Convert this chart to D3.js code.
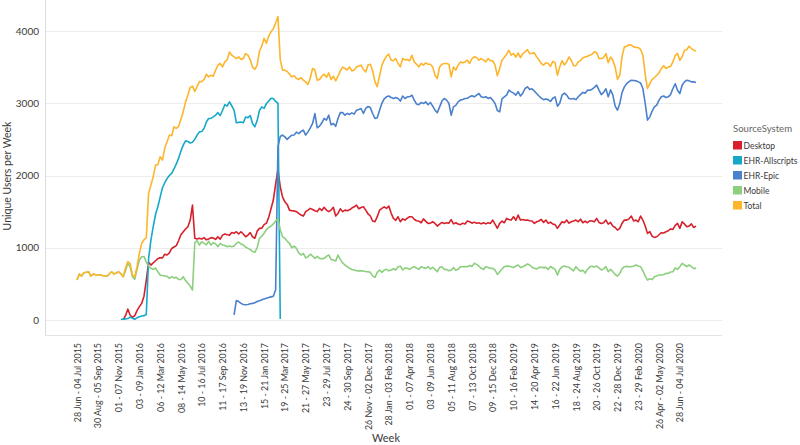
<!DOCTYPE html>
<html><head><meta charset="utf-8">
<script src="https://cdn.jsdelivr.net/npm/d3@7"></script>
<style>
body{margin:0;background:#fff;}
text{font-family:Lato,"Open Sans",sans-serif;}
</style></head>
<body><svg id="c" width="800" height="445"></svg>
<script>
// ---------- DATA ----------
const firstWeekStart = "2015-06-28"; // week of 28 Jun - 04 Jul 2015
const weekCount = 269;
const tickLabels = ["28 Jun - 04 Jul 2015","30 Aug - 05 Sep 2015","01 - 07 Nov 2015","03 - 09 Jan 2016","06 - 12 Mar 2016","08 - 14 May 2016","10 - 16 Jul 2016","11 - 17 Sep 2016","13 - 19 Nov 2016","15 - 21 Jan 2017","19 - 25 Mar 2017","21 - 27 May 2017","23 - 29 Jul 2017","24 - 30 Sep 2017","26 Nov - 02 Dec 2017","28 Jan - 03 Feb 2018","01 - 07 Apr 2018","03 - 09 Jun 2018","05 - 11 Aug 2018","07 - 13 Oct 2018","09 - 15 Dec 2018","10 - 16 Feb 2019","14 - 20 Apr 2019","16 - 22 Jun 2019","18 - 24 Aug 2019","20 - 26 Oct 2019","22 - 28 Dec 2019","23 - 29 Feb 2020","26 Apr - 02 May 2020","28 Jun - 04 Jul 2020"];
const yTicks = [0,1000,2000,3000,4000];
const seriesNames = ["Desktop","EHR-Allscripts","EHR-Epic","Mobile","Total"];

// first week index where each series begins
const desktopStart = 20;
const allscriptsStart = 19;
const epicStart = 68;
const mobileStart = 0;
const totalStart = 0;

const total = [553,636,608,654,660,668,608,636,625,622,
622,615,610,608,636,668,636,650,668,640,
599,720,807,784,622,599,738,922,1060,1110,
1140,1750,1867,1982,2144,2150,2259,2213,2380,2466,
2560,2550,2674,2651,2680,2780,2881,3019,3112,3218,
3236,3165,3230,3300,3300,3329,3402,3365,3388,3374,
3457,3527,3550,3503,3572,3600,3710,3665,3642,3619,
3642,3605,3620,3688,3665,3605,3500,3470,3527,3720,
3790,3900,3830,3930,3990,4030,4110,4200,3600,3460,
3458,3440,3402,3365,3380,3342,3329,3356,3319,3296,
3260,3350,3481,3460,3319,3329,3374,3402,3360,3420,
3330,3374,3310,3374,3448,3500,3481,3460,3503,3448,
3458,3503,3515,3527,3470,3434,3530,3540,3450,3300,
3230,3380,3527,3596,3651,3679,3596,3590,3619,3550,
3503,3620,3600,3605,3587,3665,3572,3540,3503,3550,
3527,3559,3540,3540,3503,3388,3342,3503,3540,3550,
3550,3540,3365,3503,3458,3527,3572,3559,3572,3596,
3550,3619,3642,3633,3596,3619,3596,3572,3619,3590,
3587,3527,3380,3481,3596,3633,3679,3734,3665,3688,
3640,3697,3630,3688,3711,3743,3688,3690,3697,3642,
3600,3550,3527,3560,3550,3510,3580,3560,3388,3503,
3590,3530,3572,3640,3596,3520,3520,3572,3590,3630,
3640,3650,3665,3680,3711,3700,3619,3619,3630,3688,
3560,3640,3596,3500,3330,3388,3650,3780,3789,3810,
3805,3780,3771,3771,3745,3665,3400,3204,3273,3330,
3356,3388,3420,3481,3520,3481,3503,3510,3572,3660,
3690,3596,3640,3734,3740,3789,3757,3734,3724];

const allscripts = [10,12,15,20,40,25,10,30,45,55,60,
75,850,1106,1291,1460,1567,1700,1830,1900,1960,
2000,2030,2090,2160,2240,2340,2420,2480,2470,2450,
2460,2500,2560,2604,2610,2650,2740,2789,2790,2812,
2835,2870,2830,2900,2980,2960,3019,2965,2904,2730,
2735,2740,2730,2810,2800,2830,2720,2674,2760,2900,
2950,2930,2996,3030,3070,3066,3025,3000,15];

const epic = [70,270,
255,230,215,210,215,225,230,240,255,265,
280,290,300,310,320,330,420,2400,2540,2560,
2535,2500,2530,2558,2560,2600,2580,2610,2628,2560,
2604,2660,2720,2858,2660,2683,2730,2789,2766,2835,
2700,2720,2680,2789,2870,2870,2835,2860,2845,2867,
2850,2904,2915,2927,2858,2930,2955,2940,2858,2789,
2800,2904,3000,3060,3089,3100,3080,3066,3080,3066,
3030,3100,3066,3089,3089,3112,3043,2990,2980,3010,
2996,3019,2980,3010,2960,2904,2870,2950,3030,3066,
3043,3000,2835,2950,2970,3019,3043,3052,3066,3070,
3089,3105,3089,3112,3135,3089,3080,3090,3066,3080,
3043,2996,2900,2881,3060,3089,3112,3181,3158,3140,
3112,3160,3100,3140,3204,3227,3190,3200,3170,3135,
3100,3070,3050,3060,3050,3025,3070,3089,2960,3000,
3112,3140,3112,3066,3060,3066,3050,3090,3120,3150,
3140,3181,3180,3195,3220,3250,3181,3120,3150,3200,
3089,3185,3112,2960,2904,2996,3150,3227,3273,3300,
3319,3315,3310,3296,3280,3204,3000,2766,2812,2890,
2950,2973,3043,3089,3100,3080,3089,3120,3204,3270,
3181,3135,3250,3296,3319,3310,3296,3296,3287];

const desktop = [5,60,150,70,35,60,130,185,230,330,
550,800,760,790,820,850,860,860,910,900,
930,990,1010,1030,1100,1180,1220,1260,1290,1380,
1590,1130,1120,1130,1120,1140,1110,1120,1140,1135,
1116,1150,1120,1175,1190,1180,1175,1210,1200,1222,
1190,1222,1190,1152,1175,1210,1152,1130,1230,1268,
1270,1320,1340,1420,1540,1660,1880,2084,1844,1700,
1637,1600,1521,1512,1510,1500,1475,1452,1438,1500,
1521,1545,1530,1512,1500,1545,1515,1560,1521,1500,
1521,1560,1440,1475,1540,1500,1521,1512,1525,1550,
1567,1590,1540,1558,1567,1521,1470,1440,1370,1360,
1430,1520,1545,1567,1545,1577,1480,1406,1380,1429,
1360,1400,1383,1410,1429,1429,1395,1374,1370,1346,
1400,1365,1337,1340,1360,1337,1300,1328,1350,1337,
1346,1340,1390,1330,1346,1328,1320,1340,1328,1370,
1360,1340,1355,1340,1346,1330,1346,1330,1346,1337,
1383,1328,1270,1337,1370,1346,1406,1390,1383,1429,
1380,1452,1383,1392,1380,1383,1374,1370,1337,1360,
1370,1392,1350,1383,1337,1355,1328,1320,1268,1314,
1360,1346,1383,1340,1360,1370,1383,1360,1395,1346,
1370,1346,1374,1370,1360,1406,1350,1337,1345,1383,
1328,1350,1300,1280,1245,1268,1340,1383,1383,1400,
1438,1370,1383,1360,1438,1383,1300,1199,1222,1160,
1143,1152,1180,1208,1205,1222,1236,1260,1254,1310,
1337,1268,1360,1330,1291,1300,1330,1280,1300];

const mobile = [553,636,608,654,660,668,608,636,625,622,
622,615,610,608,636,668,636,650,668,640,
599,680,784,738,599,563,700,830,876,880,
800,745,715,700,720,668,622,615,610,605,
576,599,583,590,560,560,599,545,510,470,
415,1070,1100,1037,1083,1060,1040,1090,1037,1069,
1055,1014,1060,1037,1030,1014,1023,1014,1023,1060,
1080,1051,1037,1010,991,975,950,936,1000,1130,
1160,1200,1250,1280,1300,1330,1370,1400,1250,1152,
1130,1090,1060,1000,1023,991,930,899,922,860,
876,910,885,853,880,853,850,853,880,900,
839,830,815,899,840,790,761,738,715,700,
692,682,680,682,678,670,668,660,610,590,
660,692,660,692,701,680,692,710,692,738,
745,692,720,715,701,725,738,720,701,738,
725,715,738,705,730,700,670,730,738,700,
701,682,690,728,690,701,738,738,740,738,
755,740,784,770,745,715,701,738,728,715,
715,692,630,668,705,738,747,745,738,725,
747,761,726,738,755,775,761,730,715,705,
730,728,725,728,700,740,720,700,622,701,
735,747,738,730,705,680,738,701,675,690,
650,700,738,745,735,747,720,692,708,738,
668,700,668,630,608,645,710,738,742,738,
738,747,761,747,738,682,610,553,570,560,
599,610,622,622,631,645,645,665,668,720,
701,738,784,761,740,761,738,715,715];

const colors = ["#D7202B","#17A8C9","#4A80CC","#8CCF7E","#FDB52B"];

// ---------- CATEGORIES ----------
const months = ["Jan","Feb","Mar","Apr","May","Jun","Jul","Aug","Sep","Oct","Nov","Dec"];
const pad = n => String(n).padStart(2,"0");
const start = d3.timeParse("%Y-%m-%d")(firstWeekStart);
const weeks = d3.range(weekCount).map(i => {
  const a = d3.timeDay.offset(start, i*7), b = d3.timeDay.offset(a, 6);
  if (a.getFullYear() !== b.getFullYear())
    return `${pad(a.getDate())} ${months[a.getMonth()]} ${a.getFullYear()} - ${pad(b.getDate())} ${months[b.getMonth()]} ${b.getFullYear()}`;
  if (a.getMonth() !== b.getMonth())
    return `${pad(a.getDate())} ${months[a.getMonth()]} - ${pad(b.getDate())} ${months[b.getMonth()]} ${b.getFullYear()}`;
  return `${pad(a.getDate())} - ${pad(b.getDate())} ${months[b.getMonth()]} ${b.getFullYear()}`;
});

const series = [
  {name:"Desktop", start:desktopStart, values:desktop},
  {name:"EHR-Allscripts", start:allscriptsStart, values:allscripts},
  {name:"EHR-Epic", start:epicStart, values:epic},
  {name:"Mobile", start:mobileStart, values:mobile},
  {name:"Total", start:totalStart, values:total}
].map((s,k) => ({...s, color:colors[k], points:s.values.map((v,j)=>({week:weeks[s.start+j], v}))}));

// ---------- LAYOUT ----------
const svg = d3.select("#c");
const plotL = 45, plotR = 722, plotB = 335;
const x = d3.scalePoint().domain(weeks).range([77, 696]);
const y = d3.scaleLinear().domain([0,4000]).range([320, 31]);

const textCol = "#3a3a3a";

// shrink the font of a text selection (uniformly) so the widest fits maxW
function fitFont(sel, fs, maxW){
  sel.attr("font-size", fs);
  let w = 0;
  sel.each(function(){ w = Math.max(w, this.getComputedTextLength()); });
  if (w > maxW) sel.attr("font-size", (fs*maxW/w).toFixed(2));
}

// gridlines
svg.append("g").selectAll("line").data(yTicks).join("line")
  .attr("x1", plotL).attr("x2", plotR)
  .attr("y1", d=>Math.round(y(d))+0.5).attr("y2", d=>Math.round(y(d))+0.5)
  .attr("stroke","#ececec").attr("stroke-width",1);

// axis frame lines
svg.append("line").attr("x1",plotL+0.5).attr("x2",plotL+0.5).attr("y1",0).attr("y2",plotB)
  .attr("stroke","#dcdcdc");
svg.append("line").attr("x1",plotL).attr("x2",plotR).attr("y1",plotB+0.5).attr("y2",plotB+0.5)
  .attr("stroke","#e4e4e4");

// y axis
const yAxis = d3.axisLeft(y).tickValues(yTicks).tickSize(0).tickPadding(6).tickFormat(d3.format("d"));
const gy = svg.append("g").attr("transform",`translate(${plotL},0)`).call(yAxis);
gy.select(".domain").remove();
gy.selectAll("text").attr("font-size",10).attr("fill",textCol).attr("font-family","Lato");

// x axis
const xAxis = d3.axisBottom(x).tickValues(tickLabels).tickSize(0);
const gx = svg.append("g").attr("transform",`translate(0,${plotB})`).call(xAxis);
gx.select(".domain").remove();
gx.selectAll("text")
  .attr("fill",textCol).attr("font-family","Lato")
  .attr("text-anchor","end")
  .attr("transform","translate(0,8) rotate(-90)")
  .attr("x",0).attr("y",0).attr("dy","0.35em")
  .call(fitFont, 9.2, 87);

// axis titles
svg.append("text").attr("x",386).attr("y",442).attr("text-anchor","middle")
  .attr("font-size",11).attr("fill",textCol).text("Week");
svg.append("text").attr("transform","translate(11,176) rotate(-90)").attr("text-anchor","middle")
  .attr("font-size",10.5).attr("fill",textCol).text("Unique Users per Week");

// lines
const line = d3.line().x(d=>x(d.week)).y(d=>y(d.v));
svg.append("g").selectAll("path").data(series).join("path")
  .attr("d", s=>line(s.points))
  .attr("fill","none").attr("stroke",s=>s.color)
  .attr("stroke-width",1.6).attr("stroke-linejoin","round");

// legend
const lg = svg.append("g");
lg.append("text").attr("x",733).attr("y",132).attr("fill","#666").text("SourceSystem").call(fitFont, 9.6, 60);
const li = lg.selectAll("g.item").data(series).join("g").attr("class","item")
  .attr("transform",(d,k)=>`translate(733,${141+k*15})`);
li.append("rect").attr("width",9).attr("height",8.5).attr("fill",d=>d.color);
li.append("text").attr("x",10.5).attr("y",8).attr("fill",textCol).text(d=>d.name).call(fitFont, 9.6, 54);
</script></body></html>
